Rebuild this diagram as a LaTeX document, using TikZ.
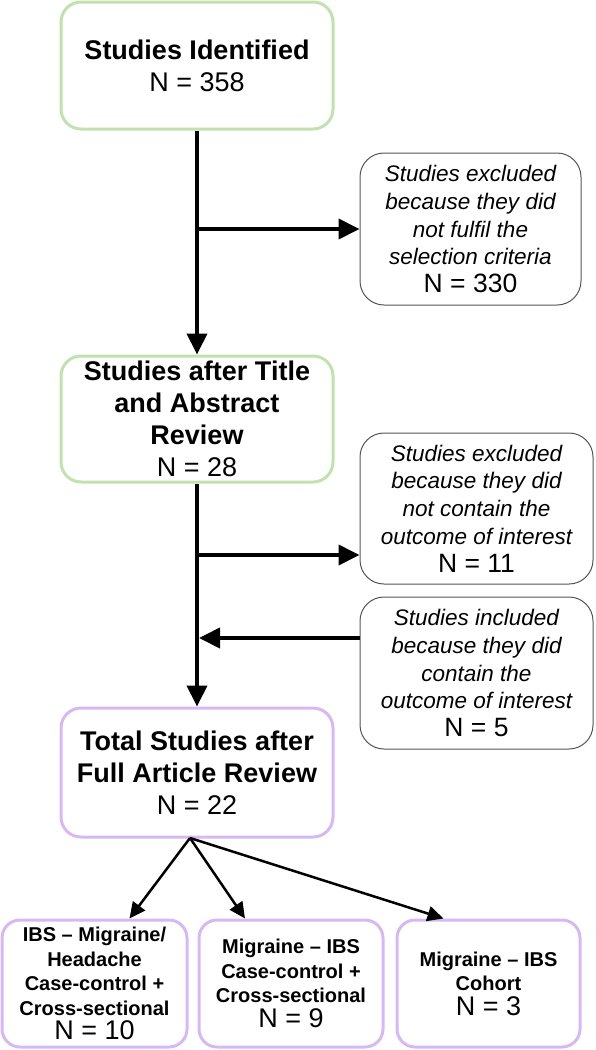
\documentclass[tikz,border=0pt]{standalone}
\usepackage{fontspec}
\setmainfont{Liberation Sans}
\usepackage{xcolor}
\usetikzlibrary{arrows.meta}
\usetikzlibrary{calc}
\definecolor{boxgreen}{RGB}{193,226,174}
\definecolor{boxpurple}{RGB}{214,184,242}
\definecolor{boxgrey}{RGB}{85,85,85}
\tikzset{stagebox/.style = {draw, line width=3pt, rounded corners=20pt, align=center, inner sep=0pt,
                            minimum width=272pt, font=\fontsize{27}{32}\selectfont\bfseries}}
\tikzset{sidebox/.style = {draw=boxgrey, line width=1pt, rounded corners=24pt, align=center, inner sep=0pt,
                           font=\fontsize{22.5}{27.7}\selectfont\itshape}}
\tikzset{designbox/.style = {draw=boxpurple, line width=3pt, rounded corners=18pt, align=center, inner sep=0pt,
                             minimum height=127pt, font=\fontsize{20}{24.5}\selectfont\bfseries}}
\tikzset{mainarrow/.style = {line width=4pt, -{Triangle[length=21pt,width=20pt]}}}
\tikzset{fanarrow/.style = {line width=2.5pt, -{Triangle[length=16pt,width=15pt]}}}

\begin{document}
\begin{tikzpicture}[x=1pt, y=-1pt]
        \useasboundingbox (0,0) rectangle (595,1050);
        \node[stagebox, draw=boxgreen, minimum height=127pt] (ident) at (197,65.5)
            {Studies Identified\\ \mdseries N = 358};
        \node[stagebox, draw=boxgreen, minimum height=126pt] (titleabs) at (197,419)
            {Studies after Title\\ and Abstract\\ Review\\ \mdseries N = 28};
        \node[stagebox, draw=boxpurple, minimum height=129pt] (fullrev) at (197,772.5)
            {Total Studies after\\ Full Article Review\\ \mdseries N = 22};
        \node[sidebox, minimum width=221pt, minimum height=152pt] (excl1) at (470.5,229)
            {Studies excluded\\ because they did\\ not fulfil the\\ selection criteria\\
             \upshape\fontsize{26.5}{27.7}\selectfont N = 330};
        \node[sidebox, minimum width=233pt, minimum height=151pt] (excl2) at (476.5,508.5)
            {Studies excluded\\ because they did\\ not contain the\\ outcome of interest\\
             \upshape\fontsize{26.5}{27.7}\selectfont N = 11};
        \node[sidebox, minimum width=233pt, minimum height=152pt] (incl) at (476.5,673)
            {Studies included\\ because they did\\ contain the\\ outcome of interest\\
             \upshape\fontsize{26.5}{27.7}\selectfont N = 5};
        \node[designbox, minimum width=185pt] (ibsmig) at (94.5,983.5)
            {IBS -- Migraine/\\ Headache\\ Case-control +\\ Cross-sectional\\
             \mdseries\fontsize{27}{26.5}\selectfont N = 10};
        \node[designbox, minimum width=184pt] (migibs) at (291,983.5)
            {Migraine -- IBS\\ Case-control +\\ Cross-sectional\\
             \mdseries\fontsize{27}{27}\selectfont N = 9};
        \node[designbox, minimum width=183pt] (cohort) at (488.5,983.5)
            {Migraine -- IBS\\ Cohort\\ \mdseries\fontsize{27}{28}\selectfont N = 3};
        \coordinate (cut1) at (197,229);
        \coordinate (cut2) at (197,555);
        \coordinate (cut3) at (197,638);
        \coordinate (split) at (190,838);
        \draw[mainarrow] (ident) -- (titleabs);
        \draw[mainarrow] (cut1) -- (excl1);
        \draw[mainarrow] (titleabs) -- (fullrev);
        \draw[mainarrow] (cut2) -- (cut2 -| excl2.west);
        \draw[mainarrow, shorten >=2pt] (cut3 -| incl.west) -- (cut3);
        \draw[fanarrow] (split) -- ($(ibsmig.north)+(35,0)$);
        \draw[fanarrow] (split) -- ($(migibs.north)+(-46,0)$);
        \draw[fanarrow] (split) -- ($(cohort.north)+(-45,0)$);
    \end{tikzpicture}
\end{document}
